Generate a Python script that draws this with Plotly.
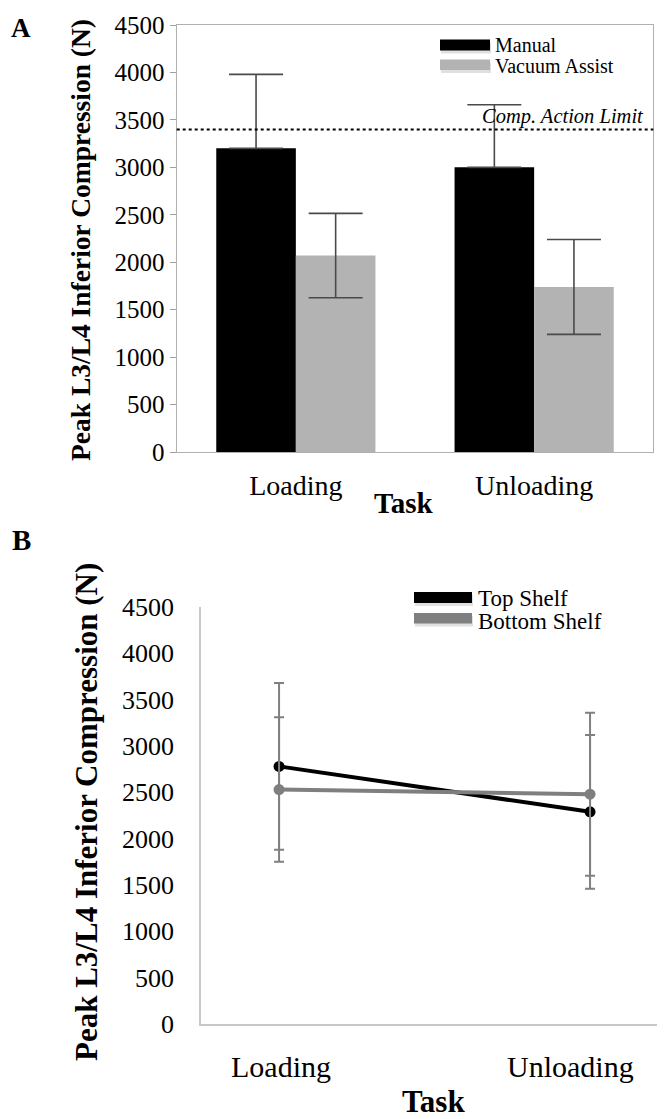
import plotly.graph_objects as go

# The page body has an 8px default margin; the figure is sized and laid out
# so that, after that offset, it fills the 665x1119 window.
OFF = 8
W, H = 665 - OFF, 1119 - OFF

# ---------------- data ----------------
TASKS = ["Loading", "Unloading"]

# Panel A: peak L3/L4 inferior compression (N), mean and SD
MANUAL_MEAN = [3200, 3000]
MANUAL_SD = [780, 660]
VACUUM_MEAN = [2070, 1740]
VACUUM_SD = [445, 500]
COMP_ACTION_LIMIT = 3400

# Panel B: shelf height
TOP_SHELF_MEAN = [2780, 2290]
TOP_SHELF_SD = [900, 830]
BOTTOM_SHELF_MEAN = [2530, 2480]
BOTTOM_SHELF_SD = [780, 880]

Y_TICKS = [0, 500, 1000, 1500, 2000, 2500, 3000, 3500, 4000, 4500]

SERIF = "Liberation Serif, Times New Roman, serif"


def px(x):
    return (x - OFF) / W


def py(y):
    return 1 - (y - OFF) / H


fig = go.Figure()

# ---------------- Panel A (bars) ----------------
fig.add_trace(go.Bar(
    x=TASKS, y=MANUAL_MEAN, name="Manual",
    marker=dict(color="#000000", line=dict(width=0)),
    error_y=dict(type="data", symmetric=False, array=MANUAL_SD,
                 arrayminus=[0 for _ in MANUAL_SD],
                 color="#4a4a4a", thickness=1.6, width=27),
    xaxis="x", yaxis="y", showlegend=False,
))
fig.add_trace(go.Bar(
    x=TASKS, y=VACUUM_MEAN, name="Vacuum Assist",
    marker=dict(color="#b3b3b3", line=dict(width=0)),
    error_y=dict(type="data", array=VACUUM_SD,
                 color="#4a4a4a", thickness=1.6, width=27),
    xaxis="x", yaxis="y", showlegend=False,
))

# ---------------- Panel B (lines) ----------------
fig.add_trace(go.Scatter(
    x=TASKS, y=TOP_SHELF_MEAN, name="Top Shelf", mode="lines+markers",
    line=dict(color="#000000", width=4),
    marker=dict(color="#000000", size=11),
    error_y=dict(type="data", array=TOP_SHELF_SD,
                 color="#808080", thickness=2, width=5),
    xaxis="x2", yaxis="y2", showlegend=False,
))
fig.add_trace(go.Scatter(
    x=TASKS, y=BOTTOM_SHELF_MEAN, name="Bottom Shelf", mode="lines+markers",
    line=dict(color="#7f7f7f", width=4),
    marker=dict(color="#7f7f7f", size=11),
    error_y=dict(type="data", array=BOTTOM_SHELF_SD,
                 color="#808080", thickness=2, width=5),
    xaxis="x2", yaxis="y2", showlegend=False,
))

# ---------------- layout ----------------
A_X = [px(176.7), px(653.3)]
A_Y = [py(452), py(25)]
B_X = [px(201), 1.0]
B_Y = [py(1024), py(607)]

fig.update_layout(
    width=W, height=H,
    margin=dict(l=0, r=0, t=0, b=0),
    paper_bgcolor="white", plot_bgcolor="white",
    barmode="group", bargap=0.332, bargroupgap=0,
    showlegend=False,
    font=dict(family=SERIF, color="#000000"),
    xaxis=dict(domain=A_X, anchor="y", type="category",
               showline=True, linecolor="#b0b0b0", linewidth=1.2, mirror=True,
               ticks="", showgrid=False, zeroline=False,
               tickfont=dict(family=SERIF, size=28, color="#000000"),
               ticklabelstandoff=8, automargin=False),
    yaxis=dict(domain=A_Y, anchor="x", range=[0, 4500],
               tickvals=Y_TICKS, ticktext=[str(v) for v in Y_TICKS],
               showline=True, linecolor="#b0b0b0", linewidth=1.2, mirror=True,
               ticks="outside", ticklen=6, tickcolor="#a0a0a0",
               showgrid=False, zeroline=False,
               tickfont=dict(family=SERIF, size=25, color="#000000"),
               automargin=False),
    xaxis2=dict(domain=B_X, anchor="y2", type="category",
                range=[-0.251, 1.241],
                showline=True, linecolor="#c8c8c8", linewidth=1.5, mirror=False,
                ticks="", showgrid=False, zeroline=False,
                showticklabels=False, automargin=False),
    yaxis2=dict(domain=B_Y, anchor="x2", range=[0, 4500],
                tickvals=Y_TICKS, ticktext=[str(v) for v in Y_TICKS],
                showline=True, linecolor="#c8c8c8", linewidth=1.5, mirror=False,
                ticks="", ticklabelstandoff=20,
                showgrid=False, zeroline=False,
                tickfont=dict(family=SERIF, size=26, color="#000000"),
                automargin=False),
)

shapes = []
annotations = []

# Comp. action limit line (panel A)
shapes.append(dict(type="line", xref="x domain", yref="y",
                   x0=0, x1=1, y0=COMP_ACTION_LIMIT, y1=COMP_ACTION_LIMIT,
                   line=dict(color="#000000", width=2, dash="dot"), layer="above"))
annotations.append(dict(xref="x domain", yref="y", x=0.985, y=COMP_ACTION_LIMIT,
                        xanchor="right", yanchor="bottom", yshift=-1,
                        text="<i>Comp. Action Limit</i>", showarrow=False,
                        font=dict(family=SERIF, size=20.5, color="#000000")))

# Panel B category labels (Excel nudges the last label inwards)
B_LABEL_SHIFT = [2, -20]
for task, shift in zip(TASKS, B_LABEL_SHIFT):
    annotations.append(dict(xref="x2", yref="paper", x=task, y=py(1066),
                            xanchor="center", yanchor="middle", xshift=shift,
                            text=task, showarrow=False,
                            font=dict(family=SERIF, size=30, color="#000000")))


def legend_item(x0, x1, ytop, ybot, color, label, tx, ty, size):
    # soft shadow
    shapes.append(dict(type="rect", xref="paper", yref="paper",
                       x0=px(x0 + 1), x1=px(x1 + 1), y0=py(ybot + 3), y1=py(ytop + 3),
                       fillcolor="rgba(0,0,0,0.12)", line=dict(width=0)))
    shapes.append(dict(type="rect", xref="paper", yref="paper",
                       x0=px(x0), x1=px(x1), y0=py(ybot), y1=py(ytop),
                       fillcolor=color, line=dict(width=0)))
    annotations.append(dict(xref="paper", yref="paper", x=px(tx), y=py(ty),
                            xanchor="left", yanchor="middle", text=label,
                            showarrow=False,
                            font=dict(family=SERIF, size=size, color="#000000")))


# Legend A
legend_item(440, 490, 39.5, 50.5, "#000000", "Manual", 493, 45, 20)
legend_item(440, 490, 59.5, 70, "#b3b3b3", "Vacuum Assist", 493, 66, 20)
# Legend B
legend_item(414, 472, 592, 603, "#000000", "Top Shelf", 476, 598, 23)
legend_item(414, 472, 613, 623.5, "#7f7f7f", "Bottom Shelf", 476, 621.5, 23)

# Panel letters
annotations.append(dict(xref="paper", yref="paper", x=px(21), y=py(28),
                        xanchor="center", yanchor="middle", text="<b>A</b>",
                        showarrow=False, font=dict(family=SERIF, size=27)))
annotations.append(dict(xref="paper", yref="paper", x=px(21), y=py(540),
                        xanchor="center", yanchor="middle", text="<b>B</b>",
                        showarrow=False, font=dict(family=SERIF, size=29)))

# Axis titles
YTITLE = "<b>Peak L3/L4 Inferior Compression (N)</b>"
annotations.append(dict(xref="paper", yref="paper", x=px(80), y=py(240),
                        xanchor="center", yanchor="middle", textangle=-90,
                        text=YTITLE, showarrow=False,
                        font=dict(family=SERIF, size=27.5)))
annotations.append(dict(xref="paper", yref="paper", x=px(86), y=py(812),
                        xanchor="center", yanchor="middle", textangle=-90,
                        text=YTITLE, showarrow=False,
                        font=dict(family=SERIF, size=31)))
annotations.append(dict(xref="paper", yref="paper", x=px(403), y=py(503),
                        xanchor="center", yanchor="middle", text="<b>Task</b>",
                        showarrow=False, font=dict(family=SERIF, size=29)))
annotations.append(dict(xref="paper", yref="paper", x=px(433), y=py(1101),
                        xanchor="center", yanchor="middle", text="<b>Task</b>",
                        showarrow=False, font=dict(family=SERIF, size=31)))

fig.update_layout(shapes=shapes, annotations=annotations)

fig.write_html("out.html")
